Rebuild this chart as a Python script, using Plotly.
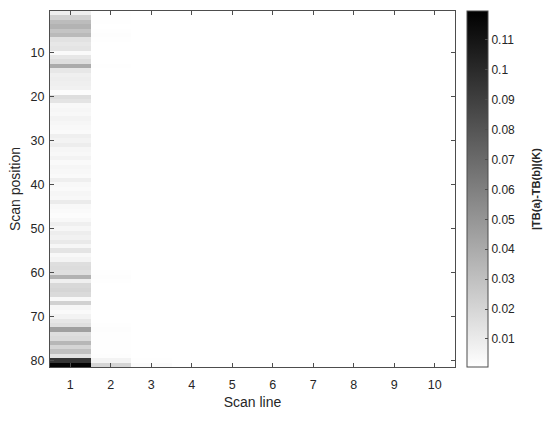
import plotly.graph_objects as go

scan_lines = [1, 2, 3, 4, 5, 6, 7, 8, 9, 10]
scan_positions = list(range(1, 82))

# |TB(a)-TB(b)| (K) for scan line 1, positions 1..81
col1 = [0.008, 0.022, 0.032, 0.036, 0.028, 0.033, 0.014, 0.012, 0.013, 0.003,
        0.012, 0.016, 0.040, 0.012, 0.008, 0.009, 0.008, 0.007, 0.002, 0.016,
        0.013, 0.004, 0.005, 0.004, 0.006, 0.005, 0.004, 0.003, 0.008, 0.006,
        0.009, 0.005, 0.004, 0.006, 0.003, 0.005, 0.004, 0.003, 0.008, 0.004,
        0.003, 0.005, 0.004, 0.010, 0.004, 0.003, 0.002, 0.004, 0.008, 0.005,
        0.009, 0.007, 0.011, 0.005, 0.013, 0.004, 0.006, 0.016, 0.017, 0.015,
        0.036, 0.008, 0.019, 0.020, 0.018, 0.004, 0.022, 0.005, 0.003, 0.006,
        0.012, 0.015, 0.045, 0.016, 0.018, 0.034, 0.020, 0.030, 0.014, 0.095,
        0.118]

# scan line 2
col2 = [0.0012, 0.0012, 0.0010, 0.0008, 0.0012, 0.0015, 0.0012, 0.0008, 0.0008, 0.0008,
        0.0008, 0.0008, 0.0012, 0.0008, 0.0008, 0.0008, 0.0008, 0.0008, 0.0008, 0.0008,
        0.0008, 0.0008, 0.0008, 0.0008, 0.0008, 0.0008, 0.0008, 0.0008, 0.0008, 0.0008,
        0.0008, 0.0008, 0.0008, 0.0008, 0.0008, 0.0008, 0.0008, 0.0008, 0.0008, 0.0008,
        0.0008, 0.0008, 0.0008, 0.0008, 0.0008, 0.0008, 0.0008, 0.0008, 0.0008, 0.0008,
        0.0008, 0.0008, 0.0008, 0.0008, 0.0008, 0.0008, 0.0008, 0.0008, 0.0008, 0.0012,
        0.0015, 0.0012, 0.0008, 0.0008, 0.0008, 0.0008, 0.0008, 0.0008, 0.0008, 0.0008,
        0.0008, 0.0012, 0.0015, 0.0012, 0.0012, 0.0012, 0.0012, 0.0012, 0.0015, 0.0060,
        0.0200]

# scan line 3
col3 = [0.0006, 0.0006, 0.0006, 0.0006, 0.0006, 0.0006, 0.0006, 0.0006, 0.0006, 0.0006,
        0.0006, 0.0006, 0.0006, 0.0006, 0.0006, 0.0006, 0.0006, 0.0006, 0.0006, 0.0006,
        0.0006, 0.0006, 0.0006, 0.0006, 0.0006, 0.0006, 0.0006, 0.0006, 0.0006, 0.0006,
        0.0006, 0.0006, 0.0006, 0.0006, 0.0006, 0.0006, 0.0006, 0.0006, 0.0006, 0.0006,
        0.0006, 0.0006, 0.0006, 0.0006, 0.0006, 0.0006, 0.0006, 0.0006, 0.0006, 0.0006,
        0.0006, 0.0006, 0.0006, 0.0006, 0.0006, 0.0006, 0.0006, 0.0006, 0.0006, 0.0006,
        0.0006, 0.0006, 0.0006, 0.0006, 0.0006, 0.0006, 0.0006, 0.0006, 0.0006, 0.0006,
        0.0006, 0.0006, 0.0006, 0.0006, 0.0006, 0.0006, 0.0006, 0.0006, 0.0006, 0.0010,
        0.0025]

# scan lines 4..10 are at the colour-scale minimum everywhere
col_rest = [0.0006] * 81

cbar_ticks = [0.01, 0.02, 0.03, 0.04, 0.05, 0.06, 0.07, 0.08, 0.09, 0.1, 0.11]
cbar_ticktext = ["0.01", "0.02", "0.03", "0.04", "0.05", "0.06", "0.07", "0.08", "0.09", "0.1", "0.11"]

columns = [col1, col2, col3] + [col_rest] * 7
z = [[columns[j][i] for j in range(len(scan_lines))] for i in range(len(scan_positions))]

TXT = "#262626"
AX = "#4d4d4d"
FONT = "Liberation Sans, Arial, sans-serif"

fig = go.Figure(go.Heatmap(
    x=scan_lines, y=scan_positions, z=z,
    colorscale=[[0, "#ffffff"], [1, "#000000"]],
    zmin=0.0006, zmax=0.1197,
    colorbar=dict(
        x=1.029, xanchor="left", xref="paper",
        y=0.5, yanchor="middle", len=1.0, lenmode="fraction",
        thickness=21, outlinecolor=AX, outlinewidth=1,
        xpad=0, ypad=0,
        tickvals=cbar_ticks, ticktext=cbar_ticktext,
        ticks="inside", ticklen=3, tickcolor=AX,
        tickfont=dict(family=FONT, size=12, color=TXT),
    ),
    showscale=True,
    hoverinfo="skip",
))

fig.update_layout(
    width=550, height=421,
    margin=dict(l=50, r=95, t=11, b=54, autoexpand=False),
    paper_bgcolor="white", plot_bgcolor="white",
    font=dict(family=FONT, color=TXT),
    xaxis=dict(
        range=[0.5, 10.5], tickvals=scan_lines,
        ticks="inside", ticklen=4, tickcolor=AX,
        showline=True, linecolor=AX, linewidth=1, mirror="ticks",
        showgrid=False, zeroline=False, ticklabelstandoff=6,
        tickfont=dict(family=FONT, size=12.5, color=TXT),
        title=dict(text="Scan line", font=dict(family=FONT, size=14, color=TXT), standoff=6),
    ),
    yaxis=dict(
        range=[81.5, 0.5], tickvals=[10, 20, 30, 40, 50, 60, 70, 80],
        ticks="inside", ticklen=4, tickcolor=AX,
        showline=True, linecolor=AX, linewidth=1, mirror="ticks",
        showgrid=False, zeroline=False, ticklabelstandoff=2,
        tickfont=dict(family=FONT, size=12.5, color=TXT),
        title=dict(text="Scan position", font=dict(family=FONT, size=14, color=TXT), standoff=6),
    ),
    annotations=[dict(
        text="<b>|TB(a)-TB(b)|(K)</b>", textangle=-90,
        x=1.20, y=0.5, xref="paper", yref="paper",
        xanchor="center", yanchor="middle", showarrow=False,
        font=dict(family=FONT, size=11, color=TXT),
    )],
)

fig.write_html("out.html", config={"displayModeBar": False},
               post_script="document.body.style.margin='0';document.body.style.padding='0';")
